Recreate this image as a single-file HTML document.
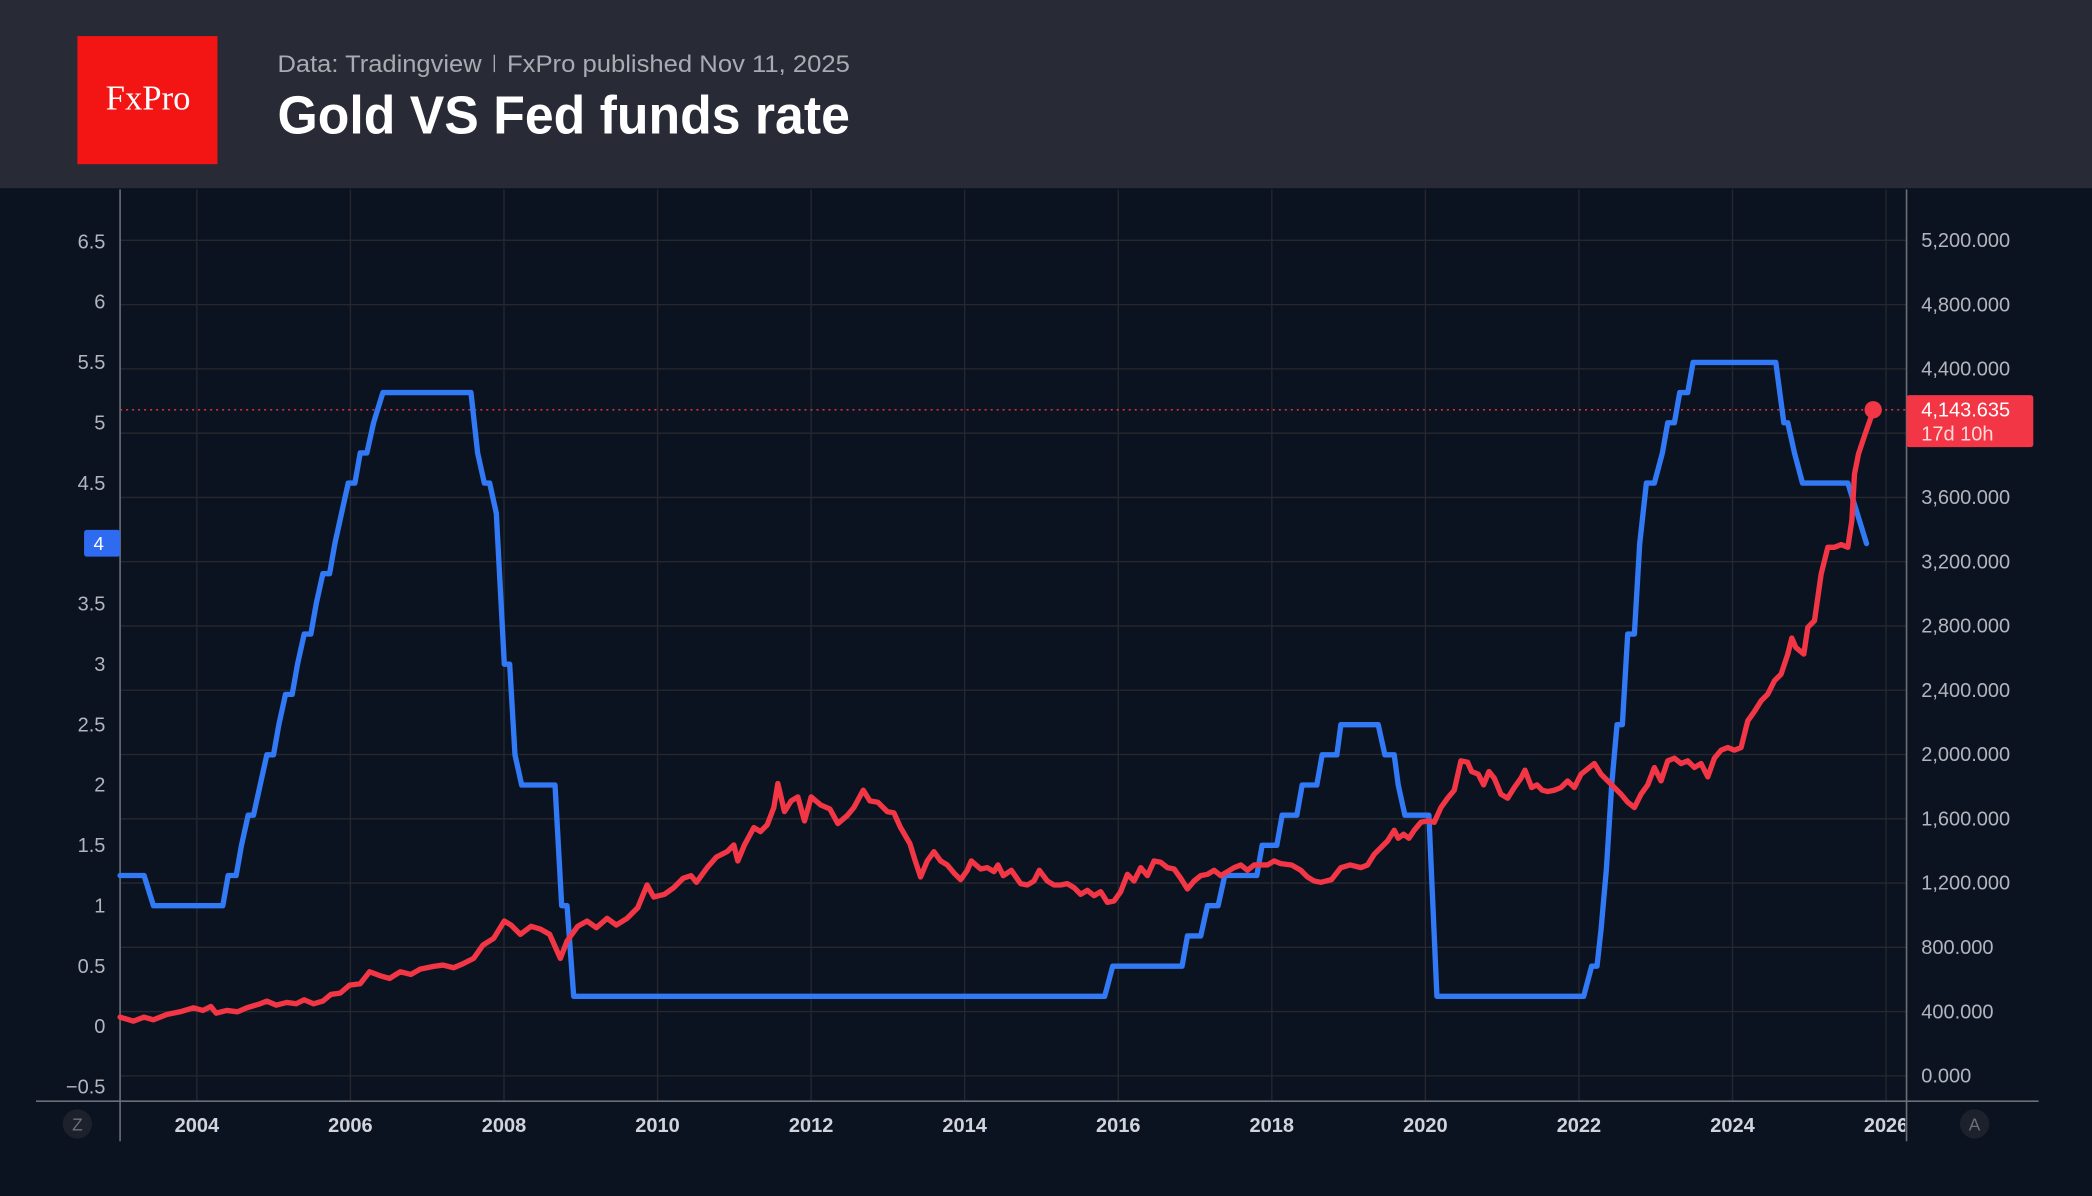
<!DOCTYPE html>
<html><head><meta charset="utf-8"><style>
html,body{margin:0;padding:0;background:#0c1320;}
svg{display:block;}
</style></head><body>
<svg id="c" width="2092" height="1196" viewBox="0 0 1568 896" preserveAspectRatio="none" xmlns="http://www.w3.org/2000/svg" font-family="Liberation Sans, sans-serif">
<rect width="1568" height="896" fill="#0c1320"/>
<rect width="1568" height="141" fill="#282a36"/>
<rect x="58" y="27" width="105" height="96" fill="#f31414"/>
<text x="111" y="82" fill="#fff" font-family="Liberation Serif, serif" font-size="26" text-anchor="middle">FxPro</text>
<text x="208" y="54" fill="#a9abb2" font-size="18" textLength="153" lengthAdjust="spacingAndGlyphs">Data: Tradingview</text>
<rect x="370" y="41" width="1" height="13" fill="#a9abb2"/>
<text x="380" y="54" fill="#a9abb2" font-size="18" textLength="257" lengthAdjust="spacingAndGlyphs">FxPro published Nov 11, 2025</text>
<text x="208" y="100" fill="#fff" font-size="40" font-weight="bold" textLength="429" lengthAdjust="spacingAndGlyphs">Gold VS Fed funds rate</text>
<g id="grid" stroke="#26282e" stroke-width="1"></g>
<defs><clipPath id="cp"><rect x="0" y="826" width="1428" height="40"/></clipPath></defs>
<g id="years" clip-path="url(#cp)" fill="#d1d4dc" font-size="15" font-weight="bold" text-anchor="middle"></g>
<g id="lt" fill="#b2b5be" font-size="15" text-anchor="end"></g>
<g id="rt" fill="#b2b5be" font-size="15"></g>
<line x1="90" y1="142" x2="90" y2="855" stroke="#6b6f78" stroke-width="1.2"/>
<line x1="1429" y1="142" x2="1429" y2="855" stroke="#6b6f78" stroke-width="1.2"/>
<line x1="27" y1="825" x2="1528" y2="825" stroke="#6b6f78" stroke-width="1.2"/>
<line x1="90" y1="307" x2="1429" y2="307" stroke="#f23645" stroke-width="1" stroke-dasharray="1.5,3"/>
<path id="blue" fill="none" stroke="#3179f5" stroke-width="4" stroke-linejoin="round" stroke-linecap="round"/>
<path id="red" fill="none" stroke="#f23645" stroke-width="4" stroke-linejoin="round" stroke-linecap="round"/>
<circle cx="1404" cy="307" r="6.5" fill="#f23645"/>
<rect x="1429" y="296" width="95" height="39" rx="2" fill="#f23645"/>
<text x="1440" y="312" fill="#fff" font-size="15">4,143.635</text>
<text x="1440" y="330" fill="#ffd9dc" font-size="15">17d 10h</text>
<rect x="63" y="397" width="27" height="20" rx="2" fill="#2e6bf0"/>
<text x="74" y="412" fill="#fff" font-size="14" text-anchor="middle">4</text>
<circle cx="58" cy="842" r="11" fill="#1c212b"/>
<text x="58" y="847" fill="#6b6f78" font-size="13" text-anchor="middle">Z</text>
<circle cx="1480" cy="842" r="11" fill="#1c212b"/>
<text x="1480" y="847" fill="#6b6f78" font-size="13" text-anchor="middle">A</text>
</svg>
<script>
var NS="http://www.w3.org/2000/svg";
function el(p,t,a,txt){var e=document.createElementNS(NS,t);for(var k in a)e.setAttribute(k,a[k]);if(txt!=null)e.textContent=txt;document.getElementById(p).appendChild(e);}
function X(t){return 90+(t-2003)*57.55;}
for(var y=2004;y<=2026;y+=2){var x=X(y);el('grid','line',{x1:x,y1:142,x2:x,y2:825});el('years','text',{x:x,y:848},String(y));}
for(var i=0;i<=13;i++){var yy=806-i*48.15;el('grid','line',{x1:90,y1:yy,x2:1429,y2:yy});
var v=(i*400).toLocaleString('en-US')+'.000';el('rt','text',{x:1440,y:yy+5},v);}
var lv=['6.5','6','5.5','5','4.5','4','3.5','3','2.5','2','1.5','1','0.5','0','\u22120.5'];
for(var i=0;i<lv.length;i++){var r=6.5-i*0.5;if(lv[i]=='4')continue;el('lt','text',{x:79,y:769-r*90.46+5},lv[i]);}
function R(r){return 769-r*90.46;}
var b=[[90,1.25],[108,1.25],[115,1.0],[167,1.0],[171,1.25],[177,1.25],[181,1.5],[186,1.75],[190,1.75],[195,2.0],[200,2.25],[205,2.25],[209,2.5],[214,2.75],[219,2.75],[223,3.0],[228,3.25],[233,3.25],[237,3.5],[242,3.75],[247,3.75],[251,4.0],[256,4.25],[261,4.5],[266,4.5],[270,4.75],[275,4.75],[280,5.0],[287,5.25],[353,5.25],[358,4.75],[363,4.5],[367,4.5],[372,4.25],[378,3.0],[382,3.0],[386,2.25],[391,2.0],[416,2.0],[421,1.0],[425,1.0],[430,0.25],[828,0.25],[834,0.5],[886,0.5],[890,0.75],[900,0.75],[905,1.0],[913,1.0],[918,1.25],[942,1.25],[946,1.5],[957,1.5],[961,1.75],[972,1.75],[976,2.0],[987,2.0],[991,2.25],[1002,2.25],[1005,2.5],[1033,2.5],[1038,2.25],[1045,2.25],[1048,2.0],[1053,1.75],[1071,1.75],[1077,0.25],[1187,0.25],[1193,0.5],[1197,0.5],[1200,0.8],[1204,1.3],[1208,2.0],[1212,2.5],[1216,2.5],[1220,3.25],[1225,3.25],[1229,4.0],[1234,4.5],[1240,4.5],[1246,4.75],[1250,5.0],[1255,5.0],[1259,5.25],[1265,5.25],[1269,5.5],[1331,5.5],[1337,5.0],[1340,5.0],[1345,4.75],[1351,4.5],[1385,4.5],[1392,4.25],[1399,4.0]];
document.getElementById('blue').setAttribute('d','M'+b.map(function(p){return p[0]+','+R(p[1]).toFixed(1);}).join('L'));
var g=[[90,762],[100,765],[108,762],[115,764],[125,760],[135,758],[145,755],[152,757],[158,754],[162,759],[170,757],[178,758],[185,755],[195,752],[200,750],[207,753],[215,751],[222,752],[228,749],[235,752],[242,750],[248,745],[255,744],[262,738],[270,737],[277,728],[285,731],[292,733],[300,728],[308,730],[315,726],[325,724],[332,723],[340,725],[347,722],[355,718],[362,708],[370,703],[378,690],[383,693],[390,700],[398,694],[405,696],[412,700],[420,718],[425,705],[433,694],[440,690],[447,695],[455,688],[462,693],[470,688],[478,680],[485,663],[490,672],[498,670],[505,665],[512,658],[518,656],[522,661],[530,650],[537,642],[545,638],[550,633],[553,645],[558,633],[565,620],[570,623],[575,618],[580,605],[583,587],[588,608],[593,600],[598,597],[603,615],[608,597],[615,603],[622,606],[628,617],[635,611],[640,605],[647,592],[652,600],[658,601],[665,608],[670,609],[675,620],[682,632],[686,645],[690,657],[695,645],[700,638],[705,645],[710,648],[715,654],[720,659],[725,652],[728,645],[735,651],[740,650],[745,653],[748,648],[752,656],[758,652],[765,662],[770,663],[775,660],[779,652],[785,660],[790,663],[795,663],[800,662],[805,665],[810,670],[815,667],[820,671],[825,668],[830,676],[835,675],[840,668],[845,655],[850,660],[855,650],[860,656],[865,645],[870,646],[875,650],[880,651],[885,658],[890,666],[895,660],[900,656],[905,655],[910,652],[915,656],[920,653],[925,650],[930,648],[935,652],[940,648],[945,648],[950,648],[955,645],[960,647],[968,648],[975,652],[980,657],[985,660],[990,661],[998,659],[1005,650],[1012,648],[1020,650],[1025,648],[1030,640],[1035,635],[1040,630],[1045,622],[1048,628],[1052,625],[1056,628],[1060,622],[1065,616],[1070,615],[1075,616],[1080,605],[1085,598],[1090,592],[1095,570],[1100,571],[1103,578],[1108,580],[1112,588],[1116,578],[1120,583],[1125,595],[1130,598],[1135,590],[1140,583],[1143,577],[1148,590],[1152,588],[1156,592],[1160,593],[1165,592],[1170,590],[1175,585],[1180,590],[1185,580],[1190,576],[1195,572],[1200,580],[1205,585],[1210,590],[1215,595],[1220,601],[1225,605],[1230,595],[1235,588],[1240,575],[1245,585],[1250,570],[1255,568],[1260,572],[1265,570],[1270,575],[1275,572],[1280,582],[1285,568],[1290,562],[1295,560],[1300,562],[1305,560],[1310,540],[1315,533],[1320,525],[1325,520],[1330,510],[1335,505],[1340,490],[1343,478],[1346,485],[1352,490],[1355,470],[1360,465],[1365,430],[1370,410],[1375,410],[1380,408],[1385,410],[1388,390],[1390,355],[1393,340],[1398,325],[1404,308]];
document.getElementById('red').setAttribute('d','M'+g.map(function(p){return p[0]+','+p[1];}).join('L'));
</script>
</body></html>
